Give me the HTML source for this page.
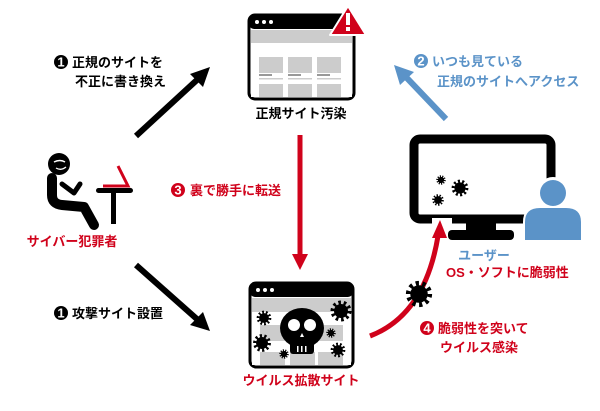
<!DOCTYPE html>
<html><head><meta charset="utf-8"><style>
html,body{margin:0;padding:0;background:#fff;}
svg text{font-family:"Liberation Sans","Noto Sans CJK JP",sans-serif;font-weight:bold;font-size:13px;}
</style></head><body>
<svg width="600" height="406" viewBox="0 0 600 406" xmlns="http://www.w3.org/2000/svg">
<defs>
<g id="burst"><circle r="7" fill="#000"/><circle r="8" fill="none" stroke="#000" stroke-width="5" stroke-dasharray="2.4 2.6"/></g>
</defs>
<!-- top browser -->
<rect x="249" y="15" width="105" height="84" rx="6" fill="#fff" stroke="#000" stroke-width="3"/>
<rect x="249" y="15" width="105" height="14" rx="5" fill="#000"/>
<circle cx="257" cy="22" r="2" fill="#fff"/><circle cx="264" cy="22" r="2" fill="#fff"/><circle cx="271" cy="22" r="2" fill="#fff"/>
<rect x="251" y="30" width="101" height="67" fill="#ccc"/>
<rect x="251" y="43" width="101" height="54" fill="#fff"/>
<g fill="#ccc">
<rect x="259" y="57" width="24" height="16"/><rect x="288" y="57" width="24" height="16"/><rect x="317" y="57" width="24" height="16"/>
<rect x="259" y="84" width="24" height="13"/><rect x="288" y="84" width="24" height="13"/><rect x="317" y="84" width="24" height="13"/>
</g>
<g fill="#999"><rect x="259" y="74" width="13" height="2"/><rect x="288" y="74" width="13" height="2"/><rect x="317" y="74" width="13" height="2"/></g>
<g fill="#ccc"><rect x="259" y="78" width="24" height="1.5"/><rect x="288" y="78" width="24" height="1.5"/><rect x="317" y="78" width="24" height="1.5"/></g>
<path d="M348 6 L366 35 L330 35 Z" fill="#d0021b" stroke="#fff" stroke-width="2" stroke-linejoin="round"/>
<rect x="346" y="13" width="4" height="12" fill="#fff"/><rect x="346" y="27" width="4" height="4" fill="#fff"/>
<text x="301" y="118" text-anchor="middle" fill="#000">正規サイト汚染</text>

<!-- bottom browser -->
<rect x="250" y="283" width="103" height="84" rx="6" fill="#fff" stroke="#000" stroke-width="3"/>
<rect x="250" y="283" width="103" height="14" rx="5" fill="#000"/>
<circle cx="258" cy="290" r="2" fill="#fff"/><circle cx="265" cy="290" r="2" fill="#fff"/><circle cx="272" cy="290" r="2" fill="#fff"/>
<rect x="252" y="298" width="99" height="67" fill="#ccc"/>
<rect x="252" y="312" width="99" height="53" fill="#fff"/>
<g fill="#ccc"><rect x="260" y="325" width="25" height="16"/><rect x="288" y="325" width="26" height="16"/><rect x="318" y="325" width="25" height="16"/>
<rect x="260" y="352" width="25" height="13"/><rect x="290" y="352" width="25" height="13"/><rect x="318" y="352" width="25" height="13"/></g>
<ellipse cx="302" cy="328" rx="22" ry="20" fill="#000"/>
<rect x="290" y="340" width="24" height="14" rx="3" fill="#000"/>
<circle cx="294" cy="325" r="6" fill="#fff"/><circle cx="310" cy="325" r="6" fill="#fff"/>
<path d="M302 333 l-2 4 h4z" fill="#fff"/>
<rect x="297" y="346" width="1.5" height="6" fill="#fff"/><rect x="301" y="346" width="1.5" height="6" fill="#fff"/><rect x="305" y="346" width="1.5" height="6" fill="#fff"/>
<use href="#burst" x="341" y="311"/><use href="#burst" transform="translate(264,318) scale(0.7)"/><use href="#burst" transform="translate(262,343) scale(0.85)"/>
<use href="#burst" transform="translate(331,333) scale(0.45)"/><use href="#burst" transform="translate(338,350) scale(0.7)"/><use href="#burst" transform="translate(284,354) scale(0.45)"/>
<text x="301" y="385" text-anchor="middle" fill="#d0021b">ウイルス拡散サイト</text>

<!-- criminal -->
<circle cx="59" cy="164" r="11" fill="#000"/>
<path d="M54 162 q6 -3 11 0" stroke="#fff" stroke-width="1.5" fill="none"/>
<path d="M56 168 q5 3 10 -1" stroke="#fff" stroke-width="1.3" fill="none"/>
<path d="M52 178 L52 195 Q52 204 62 205 L84 207 L94 225" stroke="#000" stroke-width="10" fill="none" stroke-linecap="round" stroke-linejoin="round"/>
<path d="M62 184 L74 193 L80 184" stroke="#000" stroke-width="5" fill="none" stroke-linecap="round" stroke-linejoin="round"/>
<path d="M118 166 L128 186 L103 186" stroke="#d0021b" stroke-width="3" fill="none"/>
<rect x="96" y="188" width="37" height="5" rx="2.5" fill="#000"/>
<rect x="111" y="188" width="5" height="36" fill="#000"/>
<text x="72" y="246" text-anchor="middle" fill="#d0021b">サイバー犯罪者</text>

<!-- monitor -->
<rect x="414" y="139" width="137" height="80" rx="6" fill="none" stroke="#000" stroke-width="9"/>
<rect x="466" y="219" width="30" height="12" fill="#000"/>
<rect x="448" y="230" width="66" height="10" rx="4" fill="#000"/>
<rect x="432" y="218" width="20" height="8" fill="#fff"/>
<use href="#burst" transform="translate(460,188) scale(0.8)"/><use href="#burst" transform="translate(441,180) scale(0.45)"/><use href="#burst" transform="translate(438,200) scale(0.55)"/>
<circle cx="553" cy="193" r="16" fill="#fff"/>
<circle cx="553" cy="193" r="13" fill="#5b93c8"/>
<path d="M524 241 L524 222 Q524 207 540 207 L566 207 Q582 207 582 222 L582 241 Z" fill="#5b93c8" stroke="#fff" stroke-width="2"/>
<text x="484" y="260" text-anchor="middle" fill="#5b93c8" font-size="12">ユーザー</text>
<text x="446" y="277" fill="#d0021b" font-size="12.5">OS・ソフトに脆弱性</text>

<!-- arrows -->
<line x1="136" y1="136" x2="198" y2="79" stroke="#000" stroke-width="6"/>
<path d="M210 67 L190 74 L203 87 Z" fill="#000"/>
<line x1="136" y1="265" x2="198" y2="320" stroke="#000" stroke-width="6"/>
<path d="M210 331 L190 325 L203 312 Z" fill="#000"/>
<line x1="446" y1="119" x2="405" y2="76" stroke="#5b93c8" stroke-width="6"/>
<path d="M394 65 L400 85 L414 72 Z" fill="#5b93c8"/>
<line x1="300" y1="135" x2="300" y2="255" stroke="#d0021b" stroke-width="5"/>
<path d="M300 270 L292 254 L308 254 Z" fill="#d0021b"/>
<path d="M370 336 Q425 315 438 236" stroke="#d0021b" stroke-width="5" fill="none"/>
<path d="M440 220 L432 238 L447 238 Z" fill="#d0021b"/>
<use href="#burst" transform="translate(419,294) scale(1.25)"/>

<!-- labels -->
<circle cx="61" cy="62" r="7" fill="#000"/><text x="61" y="66.5" text-anchor="middle" fill="#fff" font-size="11">1</text>
<text x="72" y="67" fill="#000">正規のサイトを</text>
<text x="75" y="86" fill="#000">不正に書き換え</text>
<circle cx="421" cy="61" r="7" fill="#5b93c8"/><text x="421" y="65.5" text-anchor="middle" fill="#fff" font-size="11">2</text>
<text x="432" y="66" fill="#5b93c8">いつも見ている</text>
<text x="437" y="86" fill="#5b93c8">正規のサイトへアクセス</text>
<circle cx="178" cy="190" r="7" fill="#d0021b"/><text x="178" y="194.5" text-anchor="middle" fill="#fff" font-size="11">3</text>
<text x="190" y="195" fill="#d0021b">裏で勝手に転送</text>
<circle cx="61" cy="313" r="7" fill="#000"/><text x="61" y="317.5" text-anchor="middle" fill="#fff" font-size="11">1</text>
<text x="72" y="318" fill="#000">攻撃サイト設置</text>
<circle cx="427" cy="328" r="7" fill="#d0021b"/><text x="427" y="332.5" text-anchor="middle" fill="#fff" font-size="11">4</text>
<text x="438" y="333" fill="#d0021b">脆弱性を突いて</text>
<text x="440" y="352" fill="#d0021b">ウイルス感染</text>
</svg>
</body></html>
